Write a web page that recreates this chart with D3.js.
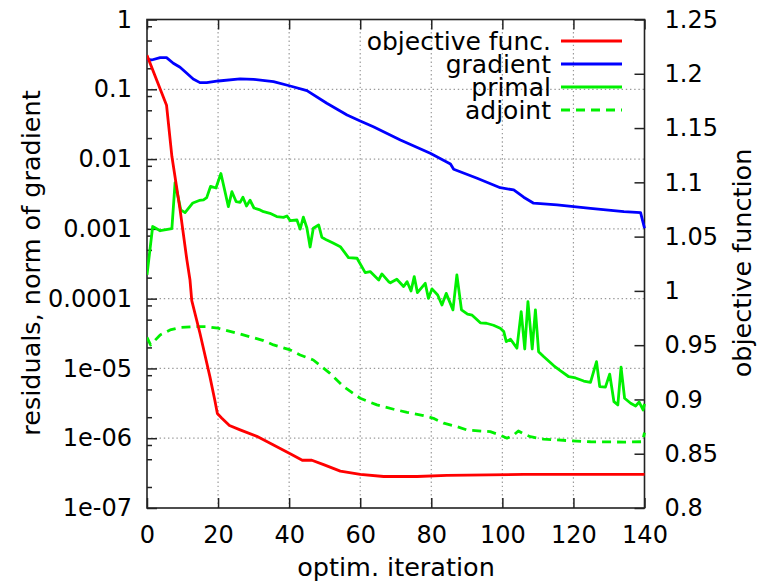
<!DOCTYPE html>
<html>
<head>
<meta charset="utf-8">
<script src="https://cdn.jsdelivr.net/npm/d3@7"></script>
<style>
  html, body { margin: 0; padding: 0; background: #fff; }
  svg { display: block; font-family: "DejaVu Sans", sans-serif; }
</style>
</head>
<body>
<svg id="chart" width="758" height="581"></svg>
<script>
// ---------- data ----------
const objIter = [0, 5.5, 7, 9.3, 11.2, 12.1, 12.6, 14.9, 17.7, 19.1, 19.8, 21, 23.2, 26.2, 30.9, 35.6, 40.3, 43.7, 46.4, 49.7, 54.4, 60, 66.6, 76, 84.4, 106, 140];
const objVal  = [1.217, 1.171, 1.124, 1.075, 1.029, 1.010, 0.991, 0.961, 0.921, 0.899, 0.887, 0.883, 0.876, 0.872, 0.866, 0.858, 0.850, 0.844, 0.844, 0.840, 0.834, 0.831, 0.829, 0.829, 0.830, 0.831, 0.831];

const gradIter = [0, 1.3, 3.7, 5.5, 7.4, 9.3, 11.2, 13.0, 14.9, 16.8, 20.1, 26.2, 30.0, 35.6, 40.3, 45.0, 50.6, 56.3, 60.0, 63.7, 71.3, 79.7, 85.4, 86.3, 92.9, 99.4, 103.2, 106.0, 108.8, 115.4, 124.8, 134.2, 138.9, 140];
const gradVal  = [0.269, 0.263, 0.284, 0.284, 0.236, 0.2065, 0.1694, 0.1406, 0.1245, 0.1245, 0.1315, 0.1406, 0.139, 0.1285, 0.1114, 0.0955, 0.0630, 0.0429, 0.0352, 0.0291, 0.0188, 0.0121, 0.00851, 0.00715, 0.00531, 0.00389, 0.00361, 0.00284, 0.00233, 0.00220, 0.00197, 0.00176, 0.00171, 0.00102];

const primIter = [0, 1.6, 3.7, 7.0, 7.9, 9.5, 10.7, 12.9, 14.7, 15.9, 16.8, 17.9, 19.4, 20.8, 22.9, 23.9, 25.1, 26.2, 27.0, 28.0, 29.0, 30.1, 31.8, 32.8, 34.6, 36.5, 38.4, 39.4, 40.3, 42.2, 43.1, 44.0, 45.0, 45.9, 46.8, 48.3, 49.2, 50.6, 52.5, 54.4, 56.7, 59.1, 61.4, 62.8, 65.2, 66.1, 68.0, 68.5, 70.3, 72.2, 73.2, 74.3, 75.2, 76.1, 78.3, 79.2, 80.2, 81.8, 83.0, 84.2, 86.1, 87.2, 88.5, 90.2, 91.5, 93.8, 95.5, 97.5, 99.4, 100.4, 101.1, 102.3, 104.1, 105.3, 106.3, 107.2, 108.4, 109.3, 110.2, 111.6, 114.5, 116.3, 118.7, 120.6, 122.9, 124.8, 126.5, 127.4, 129.0, 130.2, 131.4, 132.5, 133.4, 134.4, 136.1, 137.5, 138.5, 139.6, 140];
const primVal  = [2.2e-4, 1.08e-3, 9.4e-4, 1.01e-3, 4.6e-3, 1.87e-3, 1.71e-3, 2.35e-3, 2.55e-3, 2.6e-3, 2.8e-3, 4.07e-3, 3.85e-3, 6.2e-3, 2.08e-3, 3.41e-3, 2.45e-3, 2.39e-3, 2.84e-3, 2.13e-3, 2.57e-3, 1.99e-3, 1.87e-3, 1.76e-3, 1.67e-3, 1.5e-3, 1.46e-3, 1.53e-3, 1.31e-3, 1.34e-3, 9.9e-4, 1.47e-3, 1.03e-3, 5.5e-4, 1.02e-3, 1.14e-3, 7.6e-4, 6.9e-4, 6.2e-4, 5.56e-4, 3.87e-4, 3.79e-4, 2.36e-4, 2.44e-4, 1.85e-4, 2.26e-4, 1.75e-4, 1.69e-4, 1.9e-4, 1.49e-4, 1.75e-4, 1.29e-4, 2.07e-4, 1.22e-4, 1.66e-4, 1.01e-4, 1.38e-4, 1.13e-4, 8.1e-5, 1.19e-4, 6.9e-5, 2.19e-4, 6.9e-5, 6.0e-5, 5.8e-5, 4.5e-5, 4.44e-5, 4.16e-5, 3.77e-5, 3.37e-5, 2.42e-5, 2.62e-5, 1.95e-5, 6.5e-5, 1.9e-5, 9.06e-5, 1.9e-5, 6.9e-5, 1.74e-5, 1.48e-5, 1.09e-5, 9.3e-6, 7.6e-6, 7.3e-6, 6.6e-6, 6.3e-6, 1.25e-5, 5.5e-6, 5.4e-6, 8.3e-6, 3.34e-6, 3.0e-6, 1.04e-5, 3.74e-6, 3.17e-6, 2.9e-6, 3.3e-6, 2.54e-6, 3.1e-6];

const adjIter = [0, 1, 3.7, 6.5, 9.3, 13.5, 16.8, 20.0, 26.2, 32.8, 35.6, 40.3, 43.1, 46.8, 51.5, 55.3, 60, 64.7, 69.4, 73.2, 77.8, 80.6, 83.5, 87.2, 90.1, 96.6, 99.4, 101.3, 103.2, 104.5, 106.0, 107.9, 111.6, 118.2, 124.8, 134.2, 139.4, 140];
const adjVal  = [2.78e-5, 2.17e-5, 3.02e-5, 3.56e-5, 3.86e-5, 3.97e-5, 3.97e-5, 3.77e-5, 3.12e-5, 2.5e-5, 2.17e-5, 1.84e-5, 1.56e-5, 1.32e-5, 8.5e-6, 5.5e-6, 3.74e-6, 3.0e-6, 2.6e-6, 2.35e-6, 2.11e-6, 1.93e-6, 1.64e-6, 1.47e-6, 1.31e-6, 1.24e-6, 1.11e-6, 1.0e-6, 1.11e-6, 1.27e-6, 1.15e-6, 1.05e-6, 9.7e-7, 9.25e-7, 8.9e-7, 8.8e-7, 8.9e-7, 1.2e-6];

const xTicks = [0, 20, 40, 60, 80, 100, 120, 140];
const yTicks = [1, 0.1, 0.01, 0.001, 0.0001, 1e-5, 1e-6, 1e-7];
const yTickLabels = ["1", "0.1", "0.01", "0.001", "0.0001", "1e-05", "1e-06", "1e-07"];
const yMinorFactors = [0.8, 0.5, 0.2];
const y2Ticks = [1.25, 1.2, 1.15, 1.1, 1.05, 1, 0.95, 0.9, 0.85, 0.8];
const y2TickLabels = ["1.25", "1.2", "1.15", "1.1", "1.05", "1", "0.95", "0.9", "0.85", "0.8"];

const legendNames = ["objective func.", "gradient", "primal", "adjoint"];

// ---------- layout ----------
const L = 147, R = 644.5, T = 19.5, B = 508;
const svg = d3.select("#chart");

const x = d3.scaleLinear().domain([0, 140]).range([L, R]);
const y = d3.scaleLog().domain([1e-7, 1]).range([B, T]);
const y2 = d3.scaleLinear().domain([0.8, 1.25]).range([B, T]);

// grid
const grid = svg.append("g").attr("stroke", "#9a9a9a").attr("stroke-width", 1.2).attr("stroke-dasharray", "1.4,2.8");
xTicks.filter(t => t > 0 && t < 140).forEach(t => {
  grid.append("line").attr("x1", x(t)).attr("x2", x(t)).attr("y1", T).attr("y2", B);
});
yTicks.filter(t => t < 1 && t > 1e-7).forEach(t => {
  grid.append("line").attr("x1", L).attr("x2", R).attr("y1", y(t)).attr("y2", y(t));
});

// axes
const tickFont = 24;
function styleAxis(g) {
  g.select(".domain").remove();
  g.selectAll(".tick line").attr("stroke", "#222").attr("stroke-width", 1.5);
  g.selectAll("text").attr("font-size", tickFont).attr("fill", "#000").attr("font-family", "DejaVu Sans");
}

svg.append("g").attr("transform", `translate(0,${B})`)
  .call(d3.axisBottom(x).tickValues(xTicks).tickSize(-10).tickPadding(18).tickFormat(d3.format("d")))
  .call(styleAxis);
svg.append("g").attr("transform", `translate(0,${T})`)
  .call(d3.axisTop(x).tickValues(xTicks).tickSize(-10).tickFormat(""))
  .call(styleAxis);
svg.append("g").attr("transform", `translate(${L},0)`)
  .call(d3.axisLeft(y).tickValues(yTicks).tickSize(-10).tickPadding(15).tickFormat((d, i) => yTickLabels[i]))
  .call(styleAxis);
const minorVals = [];
yTicks.slice(0, -1).forEach(t => yMinorFactors.forEach(f => minorVals.push(t * f)));
svg.append("g").attr("transform", `translate(${L},0)`)
  .call(d3.axisLeft(y).tickValues(minorVals).tickSize(-5).tickFormat(""))
  .call(styleAxis);
svg.append("g").attr("transform", `translate(${R},0)`)
  .call(d3.axisRight(y2).tickValues(y2Ticks).tickSize(-10).tickPadding(20).tickFormat((d, i) => y2TickLabels[i]))
  .call(styleAxis);

// frame
svg.append("rect").attr("x", L).attr("y", T).attr("width", R - L).attr("height", B - T)
  .attr("fill", "none").attr("stroke", "#222").attr("stroke-width", 1.6);

// lines
svg.append("defs").append("clipPath").attr("id", "clip")
  .append("rect").attr("x", L).attr("y", T - 2).attr("width", R - L + 2).attr("height", B - T + 4);
const plot = svg.append("g").attr("clip-path", "url(#clip)");

const lineW = 2.8;
function drawSeries(iters, vals, yScale, color, dash) {
  const pts = iters.map((t, i) => [t, vals[i]]);
  const line = d3.line().x(d => x(d[0])).y(d => yScale(d[1]));
  const p = plot.append("path").datum(pts).attr("d", line)
    .attr("fill", "none").attr("stroke", color).attr("stroke-width", lineW)
    .attr("stroke-linejoin", "round");
  if (dash) p.attr("stroke-dasharray", dash);
}
drawSeries(adjIter, adjVal, y, "#00f000", "9,6");
drawSeries(primIter, primVal, y, "#00f000", null);
drawSeries(gradIter, gradVal, y, "#0000ff", null);
drawSeries(objIter, objVal, y2, "#ff0000", null);

// legend
const legColors = ["#ff0000", "#0000ff", "#00f000", "#00f000"];
const legDash = [null, null, null, "9,6"];
const legY = [41, 64, 87, 110];
legendNames.forEach((n, i) => {
  svg.append("text").attr("x", 551).attr("y", legY[i]).attr("dy", "0.35em")
    .attr("text-anchor", "end").attr("font-size", 25).text(n);
  const l = svg.append("line").attr("x1", 561).attr("x2", 622).attr("y1", legY[i]).attr("y2", legY[i])
    .attr("stroke", legColors[i]).attr("stroke-width", lineW);
  if (legDash[i]) l.attr("stroke-dasharray", legDash[i]);
});

// axis titles
svg.append("text").attr("transform", "translate(31,263) rotate(-90)").attr("text-anchor", "middle")
  .attr("dy", "0.35em").attr("font-size", 25.5).text("residuals, norm of gradient");
svg.append("text").attr("transform", "translate(742,263) rotate(-90)").attr("text-anchor", "middle")
  .attr("dy", "0.35em").attr("font-size", 25.5).text("objective function");
svg.append("text").attr("x", 396).attr("y", 567).attr("text-anchor", "middle")
  .attr("dy", "0.35em").attr("font-size", 25.5).text("optim. iteration");
</script>
</body>
</html>
